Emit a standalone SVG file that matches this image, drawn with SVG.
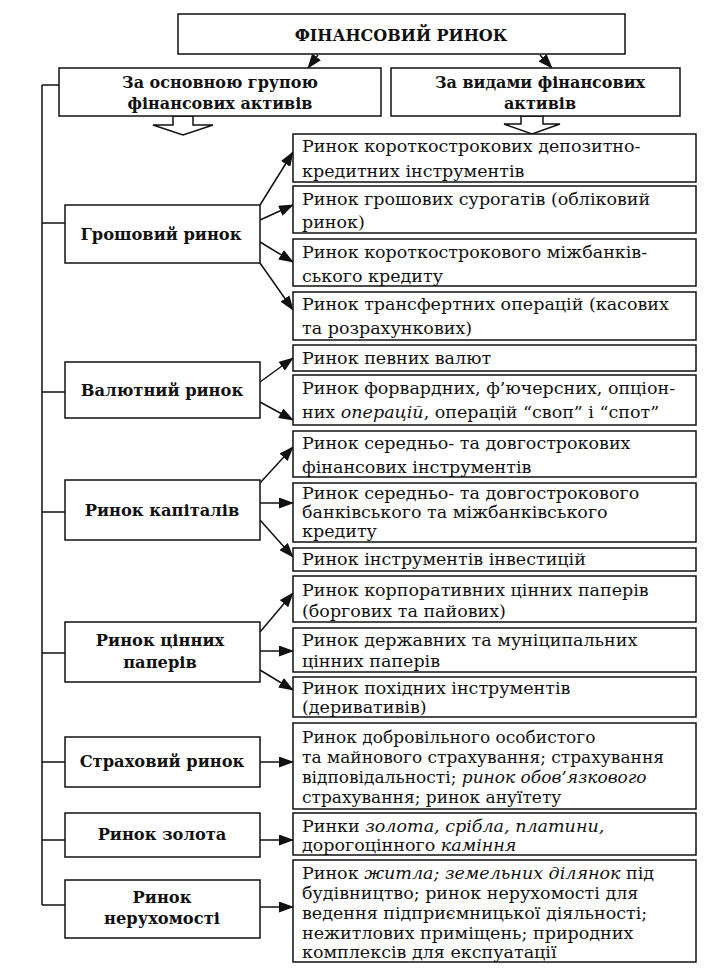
<svg xmlns="http://www.w3.org/2000/svg" width="705" height="972" viewBox="0 0 705 972">
<style>
.box{fill:#fff;stroke:#111;stroke-width:1.5}
.ln{fill:none;stroke:#111;stroke-width:1.5}
.hdr{font-family:"DejaVu Serif","Liberation Serif",serif;font-weight:bold;font-size:16px;fill:#111;text-anchor:middle}
.lbl{font-family:"DejaVu Serif","Liberation Serif",serif;font-weight:bold;font-size:16.3px;fill:#111;text-anchor:middle}
.txt{font-family:"DejaVu Serif","Liberation Serif",serif;font-size:17.5px;fill:#111}
.sm{font-size:17px}
.it{font-style:italic}
</style>
<defs>
<marker id="ah" markerUnits="userSpaceOnUse" markerWidth="16" markerHeight="11" refX="14" refY="5.5" orient="auto">
<path d="M0,0 L15,5.5 L0,11 z" fill="#111"/>
</marker>
</defs>
<rect width="705" height="972" fill="#fff"/>

<g id="connectors">
<path class="ln" d="M42,85 V905 M42,85 H59 M42,223 H65 M42,392 H65 M42,512 H65 M42,653 H65 M42,762 H65 M42,840 H65 M42,905 H65"/>
<line class="ln" x1="318" y1="55" x2="308" y2="68" marker-end="url(#ah)"/>
<line class="ln" x1="540" y1="55" x2="552" y2="68" marker-end="url(#ah)"/>
<polygon class="box" points="173,116 173,125 153,125 183,135 213,125 193,125 193,116"/>
<polygon class="box" points="521,116 521,124 504,124 532,134 560,124 543,124 543,116"/>
<line class="ln" x1="260" y1="205" x2="293" y2="152" marker-end="url(#ah)"/>
<line class="ln" x1="260" y1="220" x2="293" y2="205" marker-end="url(#ah)"/>
<line class="ln" x1="260" y1="242" x2="293" y2="262" marker-end="url(#ah)"/>
<line class="ln" x1="260" y1="263" x2="293" y2="310" marker-end="url(#ah)"/>
<line class="ln" x1="260" y1="382" x2="293" y2="358" marker-end="url(#ah)"/>
<line class="ln" x1="260" y1="402" x2="293" y2="420" marker-end="url(#ah)"/>
<line class="ln" x1="260" y1="483" x2="293" y2="447" marker-end="url(#ah)"/>
<line class="ln" x1="260" y1="503" x2="293" y2="503" marker-end="url(#ah)"/>
<line class="ln" x1="260" y1="520" x2="293" y2="557" marker-end="url(#ah)"/>
<line class="ln" x1="260" y1="632" x2="293" y2="593" marker-end="url(#ah)"/>
<line class="ln" x1="260" y1="651" x2="293" y2="651" marker-end="url(#ah)"/>
<line class="ln" x1="260" y1="670" x2="293" y2="690" marker-end="url(#ah)"/>
<line class="ln" x1="260" y1="762" x2="293" y2="762" marker-end="url(#ah)"/>
<line class="ln" x1="260" y1="840" x2="293" y2="840" marker-end="url(#ah)"/>
<line class="ln" x1="260" y1="907" x2="293" y2="907" marker-end="url(#ah)"/>
</g>

<g id="top">
<rect class="box" x="178" y="14" width="447" height="40"/>
<text class="hdr" x="401" y="41" font-size="17.5">ФІНАНСОВИЙ РИНОК</text>
</g>
<g id="sub-left">
<rect class="box" x="59" y="68" width="322" height="48"/>
<text class="hdr" x="220" y="88">За основною групою</text>
<text class="hdr" x="220" y="109">фінансових активів</text>
</g>
<g id="sub-right">
<rect class="box" x="391" y="68" width="289" height="48"/>
<text class="hdr" x="540" y="88">За видами фінансових</text>
<text class="hdr" x="540" y="109">активів</text>
</g>

<g id="l-money"><rect class="box" x="65" y="205" width="195" height="58"/><text class="lbl" x="161" y="240">Грошовий ринок</text></g>
<g id="l-currency"><rect class="box" x="65" y="362" width="195" height="56"/><text class="lbl" x="162" y="396">Валютний ринок</text></g>
<g id="l-capital"><rect class="box" x="65" y="480" width="195" height="60"/><text class="lbl" x="162" y="516">Ринок капіталів</text></g>
<g id="l-securities"><rect class="box" x="65" y="622" width="195" height="60"/><text class="lbl" x="160" y="646">Ринок цінних</text><text class="lbl" x="160" y="668">паперів</text></g>
<g id="l-insurance"><rect class="box" x="65" y="737" width="195" height="50"/><text class="lbl" x="162" y="767">Страховий ринок</text></g>
<g id="l-gold"><rect class="box" x="65" y="813" width="195" height="44"/><text class="lbl" x="162" y="840">Ринок золота</text></g>
<g id="l-realty"><rect class="box" x="65" y="880" width="195" height="58"/><text class="lbl" x="162" y="903">Ринок</text><text class="lbl" x="162" y="924">нерухомості</text></g>

<g id="r1"><rect class="box" x="293" y="134" width="403" height="48"/><text class="txt" x="302" y="152">Ринок короткострокових депозитно-</text><text class="txt" x="302" y="177">кредитних інструментів</text></g>
<g id="r2"><rect class="box" x="293" y="186" width="403" height="47"/><text class="txt" x="302" y="205">Ринок грошових сурогатів (обліковий</text><text class="txt" x="302" y="228">ринок)</text></g>
<g id="r3"><rect class="box" x="293" y="239" width="403" height="47"/><text class="txt" x="302" y="258">Ринок короткострокового міжбанків-</text><text class="txt" x="302" y="282">ського кредиту</text></g>
<g id="r4"><rect class="box" x="293" y="292" width="403" height="48"/><text class="txt" x="302" y="310">Ринок трансфертних операцій (касових</text><text class="txt" x="302" y="334">та розрахункових)</text></g>
<g id="r5"><rect class="box" x="293" y="345" width="403" height="26"/><text class="txt" x="302" y="364">Ринок певних валют</text></g>
<g id="r6"><rect class="box" x="293" y="375" width="403" height="50"/><text class="txt" x="302" y="394">Ринок форвардних, ф’ючерсних, опціон-</text><text class="txt" x="302" y="418">них <tspan class="it">операцій</tspan>, операцій “своп” і “спот”</text></g>
<g id="r7"><rect class="box" x="293" y="431" width="403" height="46"/><text class="txt" x="302" y="449">Ринок середньо- та довгострокових</text><text class="txt" x="302" y="473">фінансових інструментів</text></g>
<g id="r8"><rect class="box" x="293" y="483" width="403" height="59"/><text class="txt" x="302" y="499">Ринок середньо- та довгострокового</text><text class="txt" x="302" y="518">банківського та міжбанківського</text><text class="txt" x="302" y="537">кредиту</text></g>
<g id="r9"><rect class="box" x="293" y="548" width="403" height="23"/><text class="txt" x="302" y="565">Ринок інструментів інвестицій</text></g>
<g id="r10"><rect class="box" x="293" y="576" width="403" height="46"/><text class="txt" x="302" y="596">Ринок корпоративних цінних паперів</text><text class="txt" x="302" y="617">(боргових та пайових)</text></g>
<g id="r11"><rect class="box" x="293" y="628" width="403" height="44"/><text class="txt" x="302" y="646">Ринок державних та муніципальних</text><text class="txt" x="302" y="667">цінних паперів</text></g>
<g id="r12"><rect class="box" x="293" y="677" width="403" height="40"/><text class="txt" x="302" y="694">Ринок похідних інструментів</text><text class="txt" x="302" y="713">(деривативів)</text></g>
<g id="r13"><rect class="box" x="293" y="723" width="403" height="86"/><text class="txt sm" x="302" y="743">Ринок добровільного особистого</text><text class="txt sm" x="302" y="763">та майнового страхування; страхування</text><text class="txt sm" x="302" y="783">відповідальності; <tspan class="it">ринок обов’язкового</tspan></text><text class="txt sm" x="302" y="803">страхування; ринок ануїтету</text></g>
<g id="r14"><rect class="box" x="293" y="813" width="403" height="42"/><text class="txt" x="302" y="832">Ринки <tspan class="it">золота, срібла, платини,</tspan></text><text class="txt" x="302" y="851">дорогоцінного <tspan class="it">каміння</tspan></text></g>
<g id="r15"><rect class="box" x="293" y="860" width="403" height="102"/><text class="txt" x="302" y="879">Ринок <tspan class="it">житла; земельних ділянок</tspan> під</text><text class="txt" x="302" y="899">будівництво; ринок нерухомості для</text><text class="txt" x="302" y="919">ведення підприємницької діяльності;</text><text class="txt" x="302" y="939">нежитлових приміщень; природних</text><text class="txt" x="302" y="958">комплексів для експуатації</text></g>
</svg>
